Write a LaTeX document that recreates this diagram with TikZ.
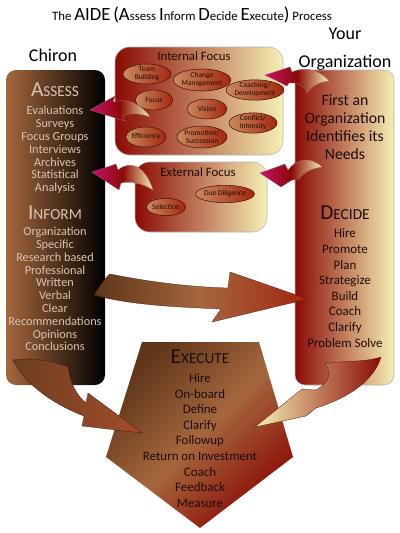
\documentclass[tikz,border=0pt]{standalone}
\usepackage{fontspec}
\setmainfont{Carlito}
\usepackage{tikz}
\usetikzlibrary{shapes, positioning}

\definecolor{aideRed}{HTML}{8B0A05}
\definecolor{aideRust}{HTML}{A3260F}
\definecolor{aideCream}{HTML}{F6F0B4}
\definecolor{aideBrown}{HTML}{A5673D}
\definecolor{aideDarkBrown}{HTML}{5E3519}
\definecolor{aideMagenta}{HTML}{C8106E}
\definecolor{aideTan}{HTML}{C98A5E}
\definecolor{aidePink}{HTML}{DDC2B2}
\definecolor{aideInk}{HTML}{1E0C06}
\definecolor{aideEdge}{HTML}{4A1208}

\newcommand{\bigletter}[1]{{\fontsize{14}{14}\selectfont #1}}
\newcommand{\scword}[2]{{\fontsize{16}{16}\selectfont #1}{\fontsize{11.5}{11.5}\selectfont #2}}

\tikzstyle{column} = [rounded corners=7.5pt, minimum width=74.25pt, minimum height=236.25pt, inner sep=0pt]
\tikzstyle{focusbox} = [rounded corners=11pt, draw=gray!60, thin, left color=aideRed, right color=aideCream, inner sep=0pt]
\tikzstyle{focus} = [ellipse, draw=aideEdge, thin, left color=aideTan, right color=aideRust, inner sep=0pt, minimum height=15pt, align=center, text=aideInk, font=\fontsize{5.6}{6}\selectfont]
\tikzstyle{heading} = [align=center, font=\fontsize{13.5}{21}\selectfont]
\tikzstyle{boxtitle} = [text=aideInk, font=\fontsize{9.6}{11}\selectfont]
\tikzstyle{lightlist} = [align=center, text=aidePink, font=\fontsize{9.2}{9.6}\selectfont]
\tikzstyle{darklist} = [align=center, text=aideInk, font=\fontsize{9.7}{11.7}\selectfont]
\tikzstyle{flow} = [draw=aideEdge, very thin]
\tikzstyle{feedback} = [draw=aideEdge!60, very thin, left color=aideMagenta, right color=aideCream, middle color=aideRed]

\begin{document}
\begin{tikzpicture}[x=0.75pt, y=-0.75pt]
	\useasboundingbox (0, 0) rectangle (400, 533);

	\node (Title) at (192, 15) {\fontsize{9.6}{9.6}\selectfont The \bigletter{AIDE} \bigletter{(A}ssess \bigletter{I}nform \bigletter{D}ecide \bigletter{E}xecute\bigletter{)} Process};

	\node (Chiron) [heading] at (53, 55) {Chiron};
	\node (YourOrg) [heading] at (345, 49) {Your\\Organization};

	% the two columns
	\node (AssessCol) [column, left color=aideBrown, right color=black] at (55.5, 227.5) {};
	\node (DecideCol) [column, draw=gray!60, thin, left color=aideRed, right color=aideCream] at (344.5, 227.5) {};

	\node (Assess) [text=aidePink] at (55, 90) {\scword{A}{SSESS}};
	\node (AssessList) [lightlist] at (55, 150) {Evaluations\\Surveys\\Focus Groups\\Interviews\\Archives\\Statistical\\Analysis};
	\node (Inform) [text=aidePink] at (55, 213) {\scword{I}{NFORM}};
	\node (InformList) [lightlist] at (55, 289) {Organization\\Specific\\Research based\\Professional\\Written\\Verbal\\Clear\\Recommendations\\Opinions\\Conclusions};

	\node (Needs) [align=center, text=aideInk, font=\fontsize{11.8}{13.5}\selectfont] at (345, 127) {First an\\Organization\\Identifies its\\Needs};
	\node (Decide) [text=aideInk] at (345, 213) {\scword{D}{ECIDE}};
	\node (DecideList) [darklist] at (345, 288) {Hire\\Promote\\Plan\\Strategize\\Build\\Coach\\Clarify\\Problem Solve};

	% internal focus
	\node (Internal) [focusbox, minimum width=126pt, minimum height=81pt] at (199, 101) {};
	\node (InternalTitle) [boxtitle] at (194, 56) {Internal Focus};
	\node (Team) [focus, minimum width=36pt] at (147, 74) {Team\\Building};
	\node (Change) [focus, minimum width=39pt, minimum height=16.5pt] at (202, 80) {Change\\Management};
	\node (Coaching) [focus, minimum width=40pt] at (255, 90) {Coaching/\\Development};
	\node (Focus) [focus, minimum width=28pt] at (154, 100) {Focus};
	\node (Vision) [focus, minimum width=30pt] at (207, 109) {Vision};
	\node (Conflict) [focus, minimum width=36pt] at (253, 123) {Conflict/\\Intensity};
	\node (Efficiency) [focus, minimum width=30pt] at (146, 137) {Efficiency};
	\node (Promotion) [focus, minimum width=37.5pt, minimum height=16.5pt] at (202, 137) {Promotion/\\Succession};

	% external focus
	\node (External) [focusbox, minimum width=99pt, minimum height=52.5pt] at (201, 197) {};
	\node (ExternalTitle) [boxtitle] at (198, 172) {External Focus};
	\node (Selection) [focus, minimum width=28pt, minimum height=13pt] at (166, 207) {Selection};
	\node (Diligence) [focus, minimum width=34pt, minimum height=13pt] at (225, 194) {Due Diligence};

	% execute
	\shade [top color=aideDarkBrown, bottom color=aideRed, middle color=aideBrown, shading angle=45] (142, 342) -- (259, 342) -- (293, 457) -- (200, 528) -- (106, 457) -- cycle;
	\node (Execute) [text=aideInk] at (200, 357) {\scword{E}{XECUTE}};
	\node (ExecuteList) [darklist] at (200, 440.5) {Hire\\On-board\\Define\\Clarify\\Followup\\Return on Investment\\Coach\\Feedback\\Measure};

	% feedback arrows
	\coordinate (EvalTip) at (90, 110);
	\coordinate (InternalTip) at (265, 75);
	\coordinate (ExternalTip) at (260, 173);
	\coordinate (ArchivesTip) at (92, 172);
	\shade [feedback] (EvalTip) -- (115, 96) -- (113, 102) .. controls (125, 98) and (140, 102) .. (150, 117) .. controls (140, 113) and (130, 113) .. (122, 116) -- (125, 121) -- cycle;
	\shade [feedback] (InternalTip) -- (290, 67) -- (292, 72) .. controls (305, 66) and (320, 70) .. (329, 81) .. controls (318, 82) and (311, 87) .. (307, 93) .. controls (305, 86) and (298, 82) .. (289, 83) -- (287, 86) -- cycle;
	\shade [feedback] (ExternalTip) -- (285, 164) -- (288, 170) .. controls (295, 160) and (310, 155) .. (322, 167) .. controls (312, 168) and (303, 173) .. (299, 179) -- (292, 180) -- (281, 187) -- cycle;
	\shade [feedback] (ArchivesTip) -- (116, 164) -- (118, 170) .. controls (130, 160) and (145, 165) .. (153, 190) .. controls (142, 183) and (130, 181) .. (121, 183) -- (119, 190) -- cycle;

	% flow arrows
	\coordinate (DecideTip) at (308, 299);
	\coordinate (ExecuteTipL) at (142, 433);
	\coordinate (ExecuteTipR) at (255, 427);
	\shade [flow, left color=aideDarkBrown, right color=aideRust, middle color=aideBrown] (94, 295) .. controls (100, 286) and (104, 279) .. (110, 274) .. controls (150, 282) and (190, 287) .. (228, 288) -- (230, 272) -- (DecideTip) -- (212, 322) -- (221, 309) .. controls (175, 307) and (130, 305) .. (94, 295) -- cycle;
	\shade [flow, left color=aideDarkBrown!80!aideBrown, right color=aideBrown!60!aideRust] (13, 360) .. controls (35, 357) and (55, 362) .. (68, 367) .. controls (70, 382) and (76, 395) .. (86, 403) -- (88, 393) -- (ExecuteTipL) -- (82, 426) -- (84, 416) .. controls (55, 405) and (25, 385) .. (13, 360) -- cycle;
	\shade [flow, left color=aideCream, right color=aideRed] (325, 364) .. controls (332, 372) and (330, 382) .. (316, 390) -- (302, 389) -- (ExecuteTipR) -- (306, 416) -- (316, 408) .. controls (352, 397) and (375, 378) .. (381, 357) .. controls (362, 363) and (342, 360) .. (325, 364) -- cycle;
\end{tikzpicture}
\end{document}
